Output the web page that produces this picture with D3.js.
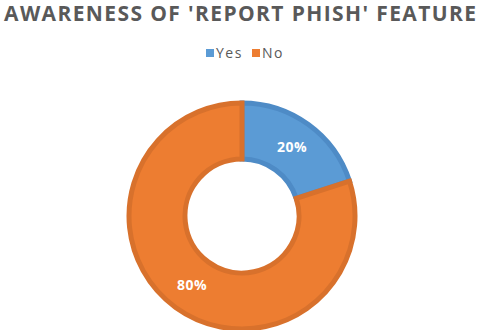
<!DOCTYPE html>
<meta charset="utf-8">
<style>
body { margin: 0; background: #fff; }
.title { font: bold 21px "Open Sans", sans-serif; fill: #595959; }
.legend text { font: 14px "Open Sans", sans-serif; fill: #595959; letter-spacing: 1.5px; }
.labels text { font: bold 14px "Open Sans", sans-serif; fill: #fff; letter-spacing: 0.5px; }
</style>
<svg width="480" height="330"></svg>
<script src="https://d3js.org/d3.v7.min.js"></script>
<script>

var categories = ["Yes", "No"];
var values = [20, 80];
var colors = ["#5B9BD5", "#ED7D31"];
var borders = ["#4E8BC6", "#D8712C"];

var svg = d3.select("svg"),
    width = +svg.attr("width"),
    height = +svg.attr("height");

svg.append("text")
    .attr("class", "title")
    .attr("x", width / 2)
    .attr("y", 21)
    .attr("text-anchor", "middle")
    .attr("textLength", 472)
    .attr("lengthAdjust", "spacing")
    .text("AWARENESS OF 'REPORT PHISH' FEATURE");

// legend
var legend = svg.append("g").attr("class", "legend")
    .attr("transform", "translate(206,47)");
var xs = [0, 46];
categories.forEach(function(c, i) {
  var g = legend.append("g").attr("transform", "translate(" + xs[i] + ",0)");
  g.append("rect").attr("width", 8).attr("height", 8).attr("y", 2).attr("fill", colors[i]);
  g.append("text").attr("x", 10).attr("y", 11).text(c);
});

var cx = 242, cy = 216;
var outer = 113, inner = 57;

var pie = d3.pie().sort(null).value(function(d) { return d; });
var arc = d3.arc().innerRadius(inner).outerRadius(outer);
var labelArc = d3.arc().innerRadius((inner + outer) / 2).outerRadius((inner + outer) / 2);

var g = svg.append("g").attr("transform", "translate(" + cx + "," + cy + ")");
var arcs = pie(values);

g.selectAll("path")
  .data(arcs)
  .enter().append("path")
    .attr("d", arc)
    .attr("fill", function(d, i) { return colors[i]; })
    .attr("stroke", function(d, i) { return borders[i]; })
    .attr("stroke-width", 5);

g.append("g").attr("class", "labels")
  .selectAll("text")
  .data(arcs)
  .enter().append("text")
    .attr("transform", function(d) { return "translate(" + labelArc.centroid(d) + ")"; })
    .attr("text-anchor", "middle")
    .attr("dy", "0.35em")
    .text(function(d) { return d.data + "%"; });

</script>
